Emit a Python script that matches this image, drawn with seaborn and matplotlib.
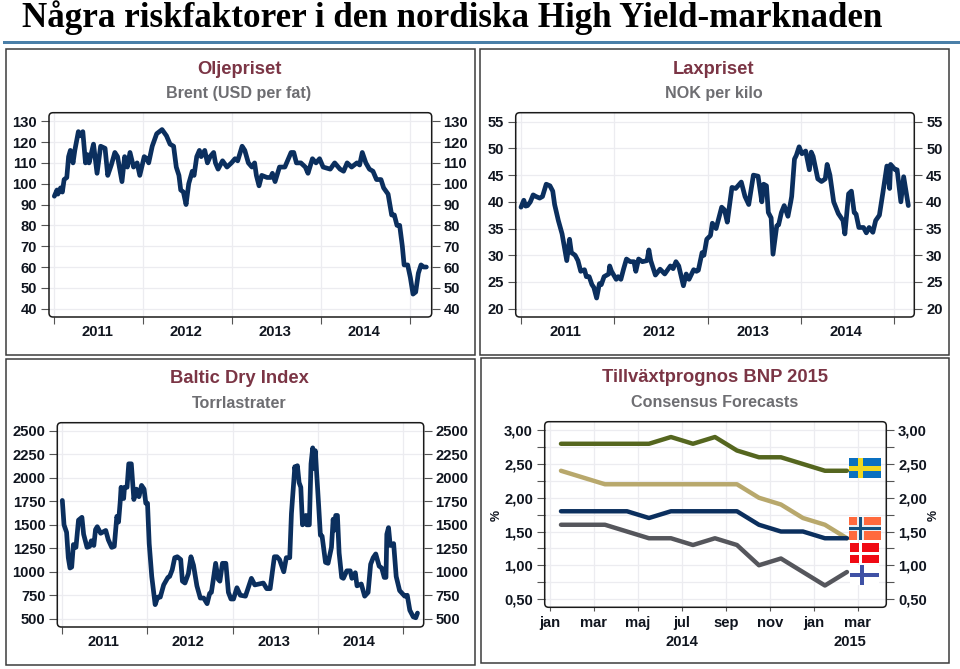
import numpy as np
import pandas as pd
import seaborn as sns
import matplotlib.pyplot as plt
from matplotlib.patches import FancyBboxPatch, Rectangle

# Data #########################################################################
# time = years since start of 2011
oil_t = [0, .03, .04, .07, .09, .11, .14, .16, .18, .21, .23, .27, .29, .32, .35, .37, .39, .44, .48, .52, .57, .60, .64, .68, .71, .76, .79, .82, .85, .89, .93, .96,
         1.01, 1.04, 1.06, 1.10, 1.15, 1.21, 1.26, 1.30, 1.34, 1.37, 1.40, 1.42, 1.45, 1.48, 1.51, 1.55, 1.57, 1.60, 1.63, 1.65, 1.69, 1.72, 1.75, 1.79, 1.81, 1.84, 1.89, 1.94, 1.99,
         2.03, 2.06, 2.11, 2.14, 2.18, 2.22, 2.25, 2.27, 2.30, 2.33, 2.39, 2.43, 2.45, 2.48, 2.53, 2.59, 2.66, 2.69, 2.72, 2.77, 2.82, 2.85, 2.90, 2.94, 2.98,
         3.02, 3.10, 3.15, 3.21, 3.25, 3.29, 3.34, 3.40, 3.43, 3.46, 3.50, 3.54, 3.58, 3.62, 3.67, 3.70, 3.75, 3.77, 3.79, 3.82, 3.85, 3.88, 3.91, 3.93, 3.97,
         4.00, 4.03, 4.06, 4.09, 4.12, 4.15, 4.18]
oil_v = [94, 97, 95, 98, 96, 102, 103, 113, 116, 110, 116, 125, 123, 125, 110, 114, 110, 119, 105, 118, 117, 104, 109, 115, 113, 101, 113, 108, 115, 108, 110, 104,
         113, 112, 110, 118, 124, 126, 123, 119, 118, 108, 104, 97, 96, 90, 100, 106, 104, 113, 116, 113, 116, 110, 113, 115, 110, 107, 111, 108, 110,
         112, 111, 118, 116, 110, 108, 110, 104, 99, 104, 103, 103, 105, 101, 108, 108, 115, 115, 110, 110, 108, 105, 112, 110, 112,
         108, 107, 110, 107, 106, 110, 108, 110, 109, 115, 110, 107, 106, 102, 102, 98, 95, 90, 85, 85, 80, 80, 70, 61, 61,
         55, 47, 48, 57, 61, 60, 60]

lax_t = [0, .03, .05, .07, .10, .13, .16, .20, .23, .27, .31, .34, .36, .40, .44, .46, .49, .52, .54, .58, .61, .64, .68, .70, .73, .76, .78, .81, .84, .86, .89, .94, .95, .97,
         1.02, 1.04, 1.07, 1.10, 1.13, 1.17, 1.21, 1.23, 1.26, 1.30, 1.35, 1.37, 1.39, 1.44, 1.49, 1.54, 1.60, 1.63, 1.66, 1.69, 1.74, 1.77, 1.80, 1.85, 1.88, 1.90, 1.94, 1.96, 1.99,
         2.03, 2.05, 2.09, 2.15, 2.18, 2.21, 2.26, 2.30, 2.36, 2.40, 2.44, 2.49, 2.54, 2.58, 2.60, 2.63, 2.65, 2.68, 2.70, 2.74, 2.76, 2.79, 2.82, 2.86, 2.89, 2.90, 2.93, 2.95, 2.98,
         3.01, 3.05, 3.09, 3.11, 3.13, 3.18, 3.22, 3.26, 3.28, 3.31, 3.35, 3.40, 3.45, 3.47, 3.51, 3.54, 3.57, 3.59, 3.62, 3.67, 3.70, 3.73, 3.77, 3.80, 3.84, 3.88, 3.92, 3.95, 3.96,
         4.01, 4.03, 4.07, 4.10, 4.15]
lax_v = [39, 40.3, 39.2, 39.3, 40, 41.3, 41, 40.7, 41, 43.3, 43, 42, 39.5, 36.5, 34, 32, 29, 33, 30.5, 30, 29, 27, 27.3, 26, 26, 24.5, 24, 22, 24.7, 24.5, 26, 26.5, 28, 27,
         25.5, 26, 25.5, 27.5, 29.3, 28.8, 28.8, 27, 29.3, 28.8, 29, 31, 29, 26.3, 27.4, 26.5, 28, 27.5, 28.8, 28, 24.3, 26.5, 25.5, 27.3, 27, 27.2, 30.5, 30, 33,
         33.7, 36, 35, 39, 38.5, 36.2, 42.7, 42.5, 43.7, 41, 39.5, 45, 44.8, 40, 43.3, 43, 38, 37, 30.2, 35.5, 35.7, 38, 39.3, 37.3, 40, 41, 48, 48.7, 50.3,
         49, 49.5, 46, 49.3, 48.5, 44.3, 43.8, 44.3, 47, 45, 40, 37.8, 36.5, 34, 41.5, 42, 38, 37.7, 35.2, 35.2, 34.2, 35.2, 34.3, 36.5, 37.5, 42, 46.7, 42.5, 47,
         46, 46, 40, 44.7, 39.3]

bdi_t = [0, .02, .05, .07, .09, .11, .13, .16, .19, .23, .25, .29, .32, .34, .37, .39, .41, .45, .51, .54, .58, .61, .64, .66, .68, .69, .72, .73, .76, .78, .81, .84, .87, .90, .93, .96, .98,
         1.00, 1.02, 1.05, 1.09, 1.12, 1.15, 1.19, 1.24, 1.26, 1.29, 1.32, 1.35, 1.39, 1.41, 1.44, 1.48, 1.51, 1.54, 1.58, 1.62, 1.66, 1.70, 1.73, 1.75, 1.77, 1.80, 1.83, 1.85, 1.88, 1.92, 1.95, 1.98,
         2.01, 2.05, 2.09, 2.15, 2.22, 2.26, 2.36, 2.40, 2.44, 2.49, 2.52, 2.55, 2.60, 2.63, 2.67, 2.69, 2.73, 2.74, 2.76, 2.78, 2.80, 2.82, 2.86, 2.87, 2.90, 2.92, 2.94, 2.95, 2.97, 2.99,
         3.01, 3.03, 3.05, 3.09, 3.12, 3.16, 3.18, 3.19, 3.21, 3.23, 3.25, 3.28, 3.30, 3.34, 3.38, 3.40, 3.44, 3.46, 3.51, 3.55, 3.59, 3.62, 3.65, 3.68, 3.72, 3.75, 3.78, 3.80, 3.81, 3.83, 3.85, 3.89, 3.92, 3.96,
         4.02, 4.05, 4.08, 4.12, 4.15, 4.17]
bdi_v = [1760, 1500, 1420, 1150, 1040, 1050, 1290, 1260, 1550, 1580, 1400, 1260, 1270, 1330, 1280, 1450, 1480, 1410, 1440, 1340, 1260, 1270, 1590, 1530, 1750, 1900, 1780, 1900, 1900, 2150, 2150, 1770, 1880, 1800, 1920, 1880, 1730,
         1730, 1300, 950, 650, 730, 730, 860, 940, 950, 1020, 1150, 1160, 1130, 900, 880, 980, 1160, 1070, 850, 720, 720, 660, 770, 780, 900, 1090, 920, 900, 1090, 1090, 780, 710,
         710, 830, 750, 740, 930, 860, 880, 820, 820, 1160, 1160, 1130, 1000, 1150, 1150, 1620, 2120, 2050, 2130, 1950, 1900, 1500, 1600, 1500, 1500, 2150, 2320, 2100, 2290, 2000,
         1700, 1390, 1380, 1100, 1090, 1260, 1560, 1440, 1600, 1600, 1200, 940, 930, 1010, 1010, 930, 990, 850, 870, 740, 780, 1080, 1150, 1190, 1060, 1040, 940, 940, 1400, 1470, 1280, 1300, 950, 800,
         740, 750, 590, 520, 510, 560]

# months since jan 2014, values sit mid month
gdp_t = [.5, 1.5, 2.5, 3.5, 4.5, 5.5, 6.5, 7.5, 8.5, 9.5, 10.5, 11.5, 12.5, 13.5]
sverige = [2.8, 2.8, 2.8, 2.8, 2.8, 2.9, 2.8, 2.9, 2.7, 2.6, 2.6, 2.5, 2.4, 2.4]
danmark = [2.4, 2.3, 2.2, 2.2, 2.2, 2.2, 2.2, 2.2, 2.2, 2.0, 1.9, 1.7, 1.6, 1.4]
norge = [1.8, 1.8, 1.8, 1.8, 1.7, 1.8, 1.8, 1.8, 1.8, 1.6, 1.5, 1.5, 1.4, 1.4]
finland = [1.6, 1.6, 1.6, 1.5, 1.4, 1.4, 1.3, 1.4, 1.3, 1.0, 1.1, 0.9, 0.7, 0.9]

years = [2011, 2012, 2013, 2014]
month_ticks = [0, 2, 4, 6, 8, 10, 12, 14]
month_labels = ['jan', 'mar', 'maj', 'jul', 'sep', 'nov', 'jan', 'mar']

NAVY = '#0b2f5e'
TITLE = '#7b3545'
SUB = '#6e6e72'
TXT = '#10151f'
GRID = '#ececf0'
W, H = 960, 669
FS = 10.6

# Figure #######################################################################
sns.set_theme(style='white')
plt.rcParams['font.family'] = ['Liberation Sans', 'DejaVu Sans']
fig = plt.figure(figsize=(W / 100, H / 100), dpi=100, facecolor='white')

# overlay in pixel coordinates for frames, titles and flags
top = fig.add_axes([0, 0, 1, 1], zorder=5)
top.set_xlim(0, W)
top.set_ylim(H, 0)
top.axis('off')
top.patch.set_alpha(0)


def make_axes(x0, x1, y0, y1):
    ax = fig.add_axes([x0 / W, 1 - y1 / H, (x1 - x0) / W, (y1 - y0) / H])
    for s in ax.spines.values():
        s.set_visible(False)
    ax.patch.set_alpha(0)
    top.add_patch(FancyBboxPatch((x0 + 3, y0 + 3), x1 - x0 - 6, y1 - y0 - 6, boxstyle='round,pad=3,rounding_size=4',
                                 fc='none', ec='#1a1a1a', lw=1.1))
    return ax


def style_axis(ax, yticks, ylabels):
    ax.set_yticks(yticks)
    ax.set_yticklabels(ylabels)
    ax.tick_params(axis='y', which='both', left=True, right=True, labelleft=True, labelright=True,
                   length=5.5, width=0.8, color='#555555', labelsize=FS, labelcolor=TXT, pad=3)
    for lab in ax.get_yticklabels():
        lab.set_fontweight('bold')
    ax.grid(True, which='major', color=GRID, lw=0.9)
    ax.set_axisbelow(True)
    ax.set_xlabel('')
    ax.set_ylabel('')


def year_axis(ax):
    ax.set_xticks([2011, 2012, 2013, 2014, 2015])
    ax.set_xticklabels([])
    ax.set_xticks([y + .48 for y in years], minor=True)
    ax.set_xticklabels([str(y) for y in years], minor=True, fontweight='bold', fontsize=FS, color=TXT)
    ax.tick_params(axis='x', which='major', bottom=True, length=5, width=0.8, color='#555555')
    ax.tick_params(axis='x', which='minor', bottom=False, length=0, pad=6)


def ts_panel(box, t, v, xlim, ylim, yticks):
    ax = make_axes(*box)
    df = pd.DataFrame({'year': np.array(t) + 2011, 'value': v})
    sns.lineplot(data=df, x='year', y='value', ax=ax, color=NAVY, linewidth=3.4, errorbar=None)
    ax.set_xlim(2011 + xlim[0], 2011 + xlim[1])
    ax.set_ylim(*ylim)
    style_axis(ax, yticks, [str(y) for y in yticks])
    year_axis(ax)
    return ax


def panel_frame(x0, x1, y0, y1, title, sub, cx, ty, sy):
    top.add_patch(Rectangle((x0, y0), x1 - x0, y1 - y0, fc='none', ec='#3c3c3c', lw=1.1))
    top.text(cx, ty, title, ha='center', va='center', fontsize=13.2, fontweight='bold', color=TITLE)
    top.text(cx, sy, sub, ha='center', va='center', fontsize=11.6, fontweight='bold', color=SUB)


def flag(x, y, w, h, bg, cross, inner=None, tf=.22, cf=.36):
    top.add_patch(Rectangle((x, y), w, h, fc=bg, ec='none'))
    cx = x + w * cf
    cy = y + h / 2
    t = h * tf
    top.add_patch(Rectangle((cx - t / 2, y), t, h, fc=cross, ec='none'))
    top.add_patch(Rectangle((x, cy - t / 2), w, t, fc=cross, ec='none'))
    if inner is not None:
        top.add_patch(Rectangle((cx - 1.4, y), 2.8, h, fc=inner, ec='none'))
        top.add_patch(Rectangle((x, cy - 1.4), w, 2.8, fc=inner, ec='none'))


# Header #######################################################################
top.text(22, 27, 'Några riskfaktorer i den nordiska High Yield-marknaden', family=['Liberation Serif'],
         fontsize=25.2, fontweight='bold', color='black', ha='left', va='baseline')
top.add_patch(Rectangle((3, 40.7), W - 3, 3.6, fc='#4a7fa8', ec='none'))

panel_frame(5.5, 474.5, 48.5, 355, 'Oljepriset', 'Brent (USD per fat)', 239, 69, 93.5)
panel_frame(480, 949, 48.5, 355, 'Laxpriset', 'NOK per kilo', 714, 69, 93.5)
panel_frame(5.5, 474.5, 358.5, 665, 'Baltic Dry Index', 'Torrlastrater', 239, 378.5, 403)
panel_frame(481, 949, 357.5, 663, 'Tillväxtprognos BNP 2015', 'Consensus Forecasts', 714.5, 378, 402.5)

# Time series panels ###########################################################
ts_panel((49, 431.7, 112.7, 317), oil_t, oil_v, (-.06, 4.24), (36, 134.1), list(range(40, 131, 10)))
ts_panel((515.7, 914.3, 112.7, 317), lax_t, lax_v, (-.057, 4.214), (18.45, 56.68), list(range(20, 56, 5)))
ts_panel((57.3, 423.7, 422.7, 627), bdi_t, bdi_v, (-.059, 4.243), (411.6, 2588), list(range(500, 2501, 250)))

# GDP panel ####################################################################
ax = make_axes(544.7, 886.3, 421.7, 607.3)
for vals, col in [(sverige, '#55661f'), (danmark, '#b8a86c'), (norge, NAVY), (finland, '#55565c')]:
    sns.lineplot(x=gdp_t, y=vals, ax=ax, color=col, linewidth=3.2, errorbar=None)
ax.set_xlim(-.24, 15.29)
ax.set_ylim(.377, 3.127)
gdp_ticks = [.5, 1, 1.5, 2, 2.5, 3]
style_axis(ax, gdp_ticks, ['{:.2f}'.format(y).replace('.', ',') for y in gdp_ticks])
ax.set_yticks([.75, 1.25, 1.75, 2.25, 2.75], minor=True)
ax.tick_params(axis='y', which='minor', left=True, right=True, length=5.5, width=0.8, color='#555555')
ax.grid(True, which='minor', axis='y', color=GRID, lw=0.9)
ax.set_xticks(month_ticks)
ax.set_xticklabels(month_labels, fontweight='bold', fontsize=FS, color=TXT)
ax.tick_params(axis='x', bottom=True, length=3, width=0.8, color='#555555', pad=3.5)
trans = ax.get_xaxis_transform()
ax.text(6, -.185, '2014', transform=trans, ha='center', va='center', fontweight='bold', fontsize=FS, color=TXT)
ax.text(13.65, -.185, '2015', transform=trans, ha='center', va='center', fontweight='bold', fontsize=FS, color=TXT)
top.text(497, 515, '%', rotation=90, ha='center', va='center', fontsize=9, fontweight='bold', color=TXT)
top.text(934, 515, '%', rotation=90, ha='center', va='center', fontsize=9, fontweight='bold', color=TXT)

flag(849, 458.3, 31.7, 20, '#0a70c0', '#f0d820')
flag(849, 516.7, 31.7, 23.3, '#ff6a3d', '#e8eef2', '#12507e', tf=.27, cf=.36)
flag(850, 543.3, 29.3, 20, '#f00a14', 'white', tf=.15)
flag(850, 565, 29, 20, 'white', '#3f51a5', cf=.42)

fig.savefig('out.png', dpi=100)
